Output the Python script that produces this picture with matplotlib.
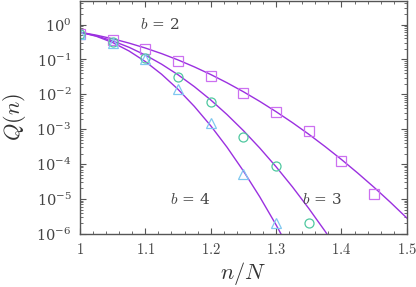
import matplotlib
matplotlib.use("Agg")
import matplotlib.pyplot as plt
from matplotlib.ticker import MultipleLocator, LogLocator, FuncFormatter, NullFormatter

plt.rcParams['mathtext.fontset'] = 'cm'
plt.rcParams['font.family'] = ['DejaVu Serif']

# simulation points
x_pts = [1.0, 1.05, 1.1, 1.15, 1.2, 1.25, 1.3, 1.35, 1.4, 1.45]
q_b2 = [0.542, 0.365, 0.202, 0.0877, 0.0333, 0.0112, 0.00306, 8.77e-4, 1.24e-4, 1.39e-5]
q_b3 = [0.55, 0.306, 0.112, 0.0312, 0.00603, 6.03e-4, 8.88e-5, 2.02e-6]
q_b4 = [0.55, 0.30, 0.10, 0.0139, 0.00151, 5.18e-5, 2.1e-6]

# theory curves
x_line = [1.0, 1.025, 1.05, 1.075, 1.1, 1.125, 1.15, 1.175, 1.2, 1.225, 1.25,
          1.275, 1.3, 1.325, 1.35, 1.375, 1.4, 1.425, 1.45, 1.475, 1.5]
line_b2 = [0.603, 0.496, 0.391, 0.294, 0.212, 0.1466, 0.0968, 0.0611, 0.037, 0.0214, 0.01186,
           0.00628, 0.00318, 0.001545, 7.18e-4, 3.18e-4, 1.355e-4, 5.51e-5, 2.15e-5, 8.0e-6, 2.85e-6]
line_b3 = [0.603, 0.473, 0.34, 0.223, 0.1334, 0.0729, 0.0364, 0.0166, 0.00692, 0.00263, 9.14e-4,
           2.9e-4, 8.41e-5, 2.23e-5, 5.38e-6, 1.19e-6, 2.4e-7]
line_b4 = [0.603, 0.461, 0.305, 0.175, 0.0871, 0.0375, 0.01396, 0.00451, 0.00126, 3.05e-4, 6.38e-5,
           1.16e-5, 1.82e-6, 2.48e-7]

labels = ['$b$ = 2', '$b$ = 3', '$b$ = 4']

fig = plt.figure(figsize=(4.16, 2.87), dpi=100)
ax = fig.add_axes([0.192, 0.185, 0.786, 0.813])

lc = '#9b30e0'
ax.plot(x_line[:len(line_b2)], line_b2, color=lc, lw=1.0)
ax.plot(x_line[:len(line_b3)], line_b3, color=lc, lw=1.0)
ax.plot(x_line[:len(line_b4)], line_b4, color=lc, lw=1.0)

ax.plot(x_pts[:len(q_b2)], q_b2, 's', ms=7.5, mfc='none', mec='#cc70f0', mew=0.9)
ax.plot(x_pts[:len(q_b3)], q_b3, 'o', ms=6.5, mfc='none', mec='#50c8a0', mew=0.9)
ax.plot(x_pts[:len(q_b4)], q_b4, '^', ms=6.5, mfc='none', mec='#80c8f0', mew=0.9)

ax.set_yscale('log')
ax.set_xlim(1.0, 1.5)
ax.set_ylim(1e-6, 4.85)

ax.xaxis.set_major_locator(MultipleLocator(0.1))
ax.xaxis.set_minor_locator(MultipleLocator(0.02))
ax.xaxis.set_major_formatter(FuncFormatter(lambda v, p: '$%g$' % round(v, 2)))
ax.yaxis.set_major_locator(LogLocator(base=10, numticks=20))
ax.yaxis.set_minor_locator(LogLocator(base=10, subs=range(2, 10), numticks=20))
ax.yaxis.set_minor_formatter(NullFormatter())

for s in ax.spines.values():
    s.set_color('#555555')
    s.set_linewidth(1.0)
ax.tick_params(which='both', direction='in', top=True, right=True, colors='#555555',
               labelcolor='#444444', labelsize=10.5)
ax.tick_params(which='major', length=4, pad=6)
ax.tick_params(which='minor', length=2)

ax.set_xlabel('$n/N$', fontsize=16, color='#333333', labelpad=2)
ax.set_ylabel('$Q(n)$', fontsize=16, color='#333333', labelpad=6)

ax.text(1.122, 1.0, labels[0], fontsize=11, color='#444444', ha='center', va='center')
ax.text(1.37, 1e-5, labels[1], fontsize=11, color='#444444', ha='center', va='center')
ax.text(1.168, 1e-5, labels[2], fontsize=11, color='#444444', ha='center', va='center')

fig.savefig('out.png', dpi=100)
